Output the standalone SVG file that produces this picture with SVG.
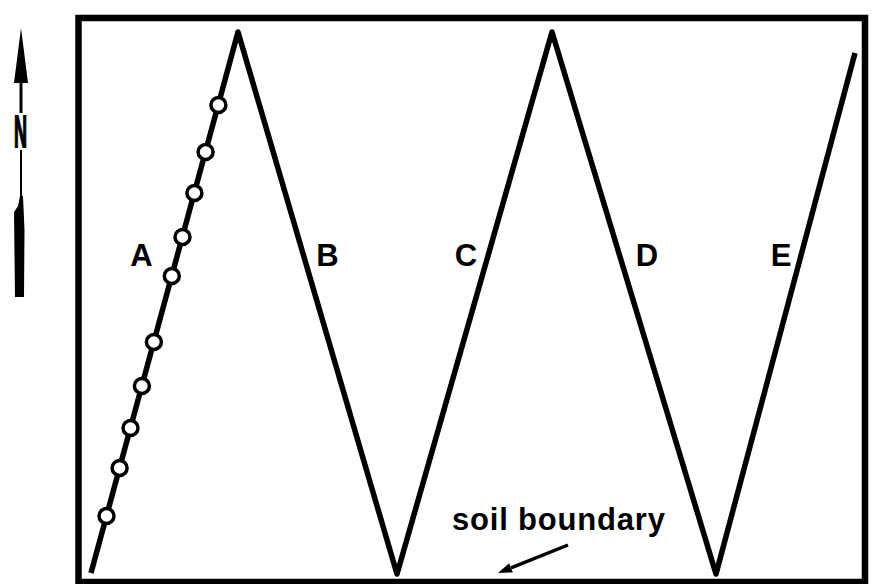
<svg xmlns="http://www.w3.org/2000/svg" width="872" height="584" viewBox="0 0 872 584">
<defs>
<style>
.frame{fill:none;stroke:#000;stroke-width:6.5}
.line{fill:none;stroke:#000;stroke-width:5.5;stroke-linejoin:round;stroke-linecap:butt}
.pt{fill:#fff;stroke:#000;stroke-width:3.5}
.lbl{font-family:"Liberation Sans",Arial,sans-serif;font-weight:bold;font-size:31px;fill:#000;text-anchor:middle}
.note{font-family:"Liberation Sans",Arial,sans-serif;font-weight:bold;font-size:31px;fill:#000}
</style>
</defs>
<rect width="872" height="584" fill="#fff"/>
<g id="north-arrow">
<path d="M21,28 L28,83 L14,83 Z" fill="#000"/>
<line x1="21" y1="82" x2="21" y2="113" stroke="#000" stroke-width="3"/>
<text x="14" y="147" font-family="'Liberation Sans',Arial,sans-serif" font-weight="bold" font-size="45" stroke="#000" stroke-width="2" textLength="13" lengthAdjust="spacingAndGlyphs">N</text>
<line x1="21" y1="150" x2="21" y2="200" stroke="#000" stroke-width="2"/>
<path d="M20,196 L23,196 L24.5,230 L24,297 L15,297 L14,212 L18,206 Z" fill="#000"/>
</g>
<g id="frame">
<rect x="78.5" y="18" width="786.5" height="564" class="frame"/>
</g>
<g id="connectors">
<path id="zigzag" class="line" d="M91,573 L238,32 L397,574 L552,32 L716,574 L855,53"/>
<g id="boundary-arrow">
<line x1="568" y1="545" x2="511" y2="567.8" stroke="#000" stroke-width="3.5"/>
<path d="M498,573 L512.9,572.4 L509.1,563.2 Z" fill="#000"/>
</g>
</g>
<g id="points">
<circle class="pt" cx="218.4" cy="105" r="7.5"/>
<circle class="pt" cx="205.6" cy="152" r="7.5"/>
<circle class="pt" cx="194.4" cy="193" r="7.5"/>
<circle class="pt" cx="182.5" cy="237" r="7.5"/>
<circle class="pt" cx="171.8" cy="276" r="7.5"/>
<circle class="pt" cx="153.9" cy="342" r="7.5"/>
<circle class="pt" cx="141.9" cy="386" r="7.5"/>
<circle class="pt" cx="130.5" cy="428" r="7.5"/>
<circle class="pt" cx="119.6" cy="468" r="7.5"/>
<circle class="pt" cx="106.5" cy="516" r="7.5"/>
</g>
<g id="label-A"><text class="lbl" x="141.5" y="266">A</text></g>
<g id="label-B"><text class="lbl" x="327.5" y="266">B</text></g>
<g id="label-C"><text class="lbl" x="466" y="266">C</text></g>
<g id="label-D"><text class="lbl" x="647" y="266">D</text></g>
<g id="label-E"><text class="lbl" x="781" y="266">E</text></g>
<g id="soil-boundary-label"><text class="note" x="452" y="530" textLength="213">soil boundary</text></g>
</svg>
